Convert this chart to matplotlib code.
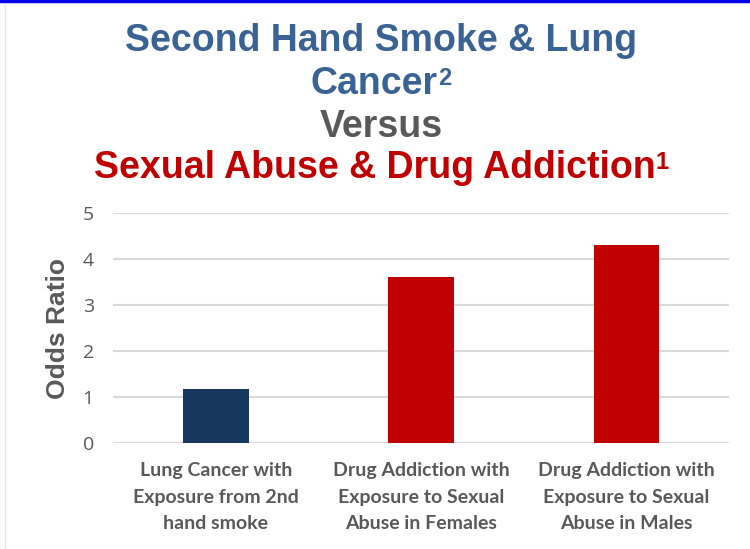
import matplotlib.pyplot as plt
from matplotlib.lines import Line2D

categories = ["Lung Cancer with\nExposure from 2nd\nhand smoke",
              "Drug Addiction with\nExposure to Sexual\nAbuse in Females",
              "Drug Addiction with\nExposure to Sexual\nAbuse in Males"]
odds_ratio = [1.17, 3.6, 4.3]
bar_colors = ["#17375E", "#C00000", "#C00000"]
yticks = [0, 1, 2, 3, 4, 5]

fig = plt.figure(figsize=(7.5, 5.49), dpi=100)
ax = fig.add_axes([0.151, 0.193, 0.821, 0.419])

x = list(range(len(categories)))
ax.bar(x, odds_ratio, width=0.32, color=bar_colors, zorder=3)
ax.set_xlim(-0.5, 2.5)
ax.set_ylim(0, 5)
ax.set_yticks(yticks)
ax.set_xticks(x)
ax.set_xticklabels(categories, fontsize=14, fontweight="bold", color="#595959",
                   family="Lato", linespacing=1.65)
ax.tick_params(axis="both", length=0)
ax.tick_params(axis="y", labelsize=14, labelcolor="#595959", pad=14)
ax.tick_params(axis="x", pad=14)
for lab in ax.get_yticklabels():
    lab.set_family("Open Sans")
ax.grid(axis="y", color="#D9D9D9", linewidth=1.5, zorder=0)
for s in ax.spines.values():
    s.set_visible(False)
ax.set_ylabel("Odds Ratio", fontsize=19, fontweight="bold", color="#595959",
              family="Liberation Sans", labelpad=9)

# titles (main text + superscript, centred together)
renderer = fig.canvas.get_renderer()
cx = 381 / 750


def title_line(y, main, color, sup=None):
    t = fig.text(cx, y, main, fontsize=27, color=color, family="Liberation Sans",
                 fontweight="bold", ha="center", va="baseline")
    if sup is None:
        return
    s = fig.text(0, y + 0.017, sup, fontsize=17, color=color, family="Liberation Sans",
                 fontweight="bold", ha="left", va="baseline")
    wm = t.get_window_extent(renderer).width / 750
    ws = s.get_window_extent(renderer).width / 750
    t.set_x(cx - ws / 2)
    s.set_x(cx - ws / 2 + wm / 2 + 0.0005)


title_line(0.907, "Second Hand Smoke & Lung", "#3A6395")
title_line(0.829, "Cancer", "#3A6395", "2")
title_line(0.750, "Versus", "#595959")
title_line(0.676, "Sexual Abuse & Drug Addiction", "#C00000", "1")

# slide frame bits
fig.add_artist(Line2D([0, 1], [0.998, 0.998], color="#0000EE", linewidth=2.5, transform=fig.transFigure))
fig.add_artist(Line2D([0.007, 0.007], [0, 0.99], color="#E6E6E6", linewidth=1, transform=fig.transFigure))

fig.savefig("out.png", dpi=100)
